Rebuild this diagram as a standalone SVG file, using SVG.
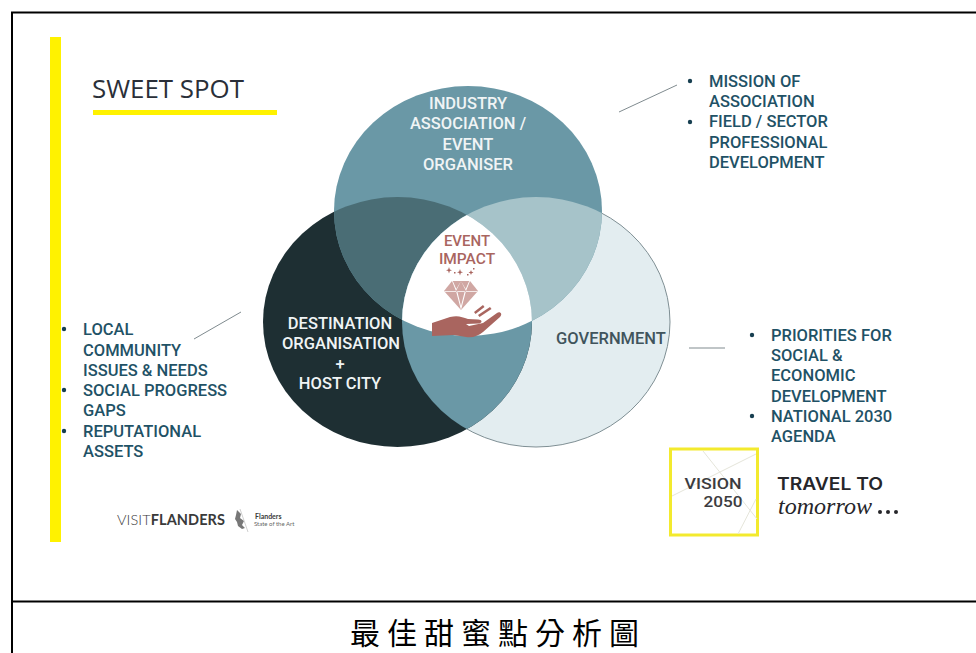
<svg xmlns="http://www.w3.org/2000/svg" width="976" height="653" viewBox="0 0 976 653">
<style>
.l{font-family:Roboto,"Liberation Sans",sans-serif;font-weight:500;font-size:16.5px;text-anchor:middle}
.w{fill:#f0f4f5}
.b{font-family:Roboto,"Liberation Sans",sans-serif;font-weight:500;font-size:16.5px;fill:#1f5266}
.d{fill:#173f50}
.c{stroke:#808b8f;stroke-width:1;fill:none}
</style>
<defs>
<clipPath id="cT"><ellipse cx="468" cy="211" rx="134" ry="125"/></clipPath>
<clipPath id="cL"><ellipse cx="397.5" cy="322" rx="134.500" ry="125"/></clipPath>
</defs>
<rect width="976" height="653" fill="#fff"/>
<g id="frame" fill="none" stroke="#000" stroke-width="2">
<path d="M976 12.500H12V653"/><path d="M12 601.500H976"/>
</g>
<g id="title">
<rect x="50" y="37" width="11" height="505" fill="#fff200"/>
<text x="92" y="98" font-family="'Open Sans','Liberation Sans',sans-serif" font-size="25.500" fill="#2a2f38" textLength="152" lengthAdjust="spacingAndGlyphs">SWEET SPOT</text>
<rect x="93" y="110" width="184" height="5" fill="#fff200"/>
</g>
<g id="government"><ellipse cx="536" cy="322" rx="134" ry="125" fill="#e3edf0" stroke="#7f8f94" stroke-width="1"/></g>
<g id="destination"><ellipse cx="397.500" cy="322" rx="134.500" ry="125" fill="#1e2f33"/></g>
<g id="industry"><ellipse cx="468" cy="211" rx="134" ry="125" fill="#6a98a6"/></g>
<g id="overlaps">
<g clip-path="url(#cT)"><ellipse cx="397.500" cy="322" rx="134.500" ry="125" fill="#4a6d75"/>
<ellipse cx="536" cy="322" rx="134" ry="125" fill="#a6c3c9"/></g>
<g clip-path="url(#cL)"><ellipse cx="536" cy="322" rx="134" ry="125" fill="#6a98a6"/>
<g clip-path="url(#cT)"><ellipse cx="536" cy="322" rx="134" ry="125" fill="#fff"/></g></g>
</g>
<g id="labels">
<text class="l w" x="468" y="109">INDUSTRY</text>
<text class="l w" x="468" y="129">ASSOCIATION /</text>
<text class="l w" x="468" y="150">EVENT</text>
<text class="l w" x="468" y="170">ORGANISER</text>
<text class="l w" x="340" y="329">DESTINATION</text>
<text class="l w" x="341" y="349">ORGANISATION</text>
<text class="l w" x="340" y="370">+</text>
<text class="l w" x="340" y="389">HOST CITY</text>
<text class="l" x="611" y="344" fill="#40545c">GOVERNMENT</text>
</g>
<g id="event-impact" fill="#a9655f">
<text class="l" x="467" y="246" style="font-size:15px" fill="#a9655f">EVENT</text>
<text class="l" x="467" y="264" style="font-size:15.5px" fill="#a9655f">IMPACT</text>
<path d="M449 267l.8 2.500 2.200.8-2.200.8-.8 2.500-.8-2.500-2.200-.8 2.200-.8zM460 269l.8 2.500 2.200.8-2.200.8-.8 2.500-.8-2.500-2.200-.8 2.200-.8zM471 270l.7 1.800 1.800.7-1.800.7-.7 1.800-.7-1.800-1.800-.7 1.800-.7zM454 272h1.500v1.500H454zM467 274h1.500v1.500H467zM473 268h1.500v1.500H473z"/>
<path fill="#d0a7a3" d="M452 281h18l8 10-17 19-17-19z"/>
<path fill="#fff" d="M444.500 291h33v.8h-33zM456 291l5 19 5-19h-1.200l-3.800 15-3.800-15zM452 281l4 10 5-10 5 10 4-10h-.8l-3.500 8-4.700-8-4.700 8-3.500-8z"/>
<path transform="translate(0 3)" d="M432 320l18-6c8-2 12 0 18 2l10 .5c4 0 5 3 1 4l-13 .5 3 2 14-3 14-10c3-2 6 1 3 4l-17 15c-5 4-10 6-17 5l-12-2-22 1zM478 312l12-8 1.500 2-12 8zM474 309l9-7 1.500 2-9 7z"/>
</g>
<g id="connectors" class="c">
<path d="M619 112l58-27"/>
<path d="M194 339l47-27"/>
<path d="M689 348h36"/>
</g>
<g id="top-notes">
<circle class="d" cx="690" cy="81" r="2.200"/>
<circle class="d" cx="690" cy="122" r="2.200"/>
<text class="b" x="709" y="87">MISSION OF</text>
<text class="b" x="709" y="107">ASSOCIATION</text>
<text class="b" x="709" y="127">FIELD / SECTOR</text>
<text class="b" x="709" y="148">PROFESSIONAL</text>
<text class="b" x="709" y="168">DEVELOPMENT</text>
</g>
<g id="left-notes">
<circle class="d" cx="64" cy="329" r="2.200"/>
<circle class="d" cx="64" cy="390" r="2.200"/>
<circle class="d" cx="64" cy="431" r="2.200"/>
<text class="b" x="83" y="335">LOCAL</text>
<text class="b" x="83" y="356">COMMUNITY</text>
<text class="b" x="83" y="376">ISSUES &amp; NEEDS</text>
<text class="b" x="83" y="396">SOCIAL PROGRESS</text>
<text class="b" x="83" y="416">GAPS</text>
<text class="b" x="83" y="437">REPUTATIONAL</text>
<text class="b" x="83" y="457">ASSETS</text>
</g>
<g id="right-notes">
<circle class="d" cx="752" cy="335" r="2.200"/>
<circle class="d" cx="752" cy="416" r="2.200"/>
<text class="b" x="771" y="341">PRIORITIES FOR</text>
<text class="b" x="771" y="361">SOCIAL &amp;</text>
<text class="b" x="771" y="381">ECONOMIC</text>
<text class="b" x="771" y="402">DEVELOPMENT</text>
<text class="b" x="771" y="422">NATIONAL 2030</text>
<text class="b" x="771" y="442">AGENDA</text>
</g>
<g id="visitflanders" fill="#3a3a3a">
<text x="117" y="525" font-family="Lato,'Liberation Sans',sans-serif" font-size="14.500" textLength="108"><tspan font-weight="300">VISIT</tspan><tspan font-weight="700">FLANDERS</tspan></text>
<path d="M237 510l4 4-1 4 4 3-2 4 3 3-3 1-4-3-1-4-2-3 1-4z" fill="#777"/>
<path d="M240 509l8 23" stroke="#bbb" stroke-width=".7"/>
<text x="255" y="519" font-family="Lato,'Liberation Sans',sans-serif" font-size="7" font-weight="700">Flanders</text>
<text x="254" y="526" font-family="Lato,'Liberation Sans',sans-serif" font-size="6" fill="#666">State of the Art</text>
</g>
<g id="vision-logo">
<rect x="670.500" y="449" width="87" height="86" fill="#fff" stroke="#f3ea2e" stroke-width="3"/>
<path d="M703 451l54 68M738 534l18-35M672 496l84-42" stroke="#e5e5da" fill="none"/>
<text x="713" y="489" text-anchor="middle" font-family="Roboto,'Liberation Sans',sans-serif" font-weight="500" font-size="15" textLength="57" lengthAdjust="spacingAndGlyphs" fill="#3c3c40">VISION</text>
<text x="723" y="507" text-anchor="middle" font-family="Roboto,'Liberation Sans',sans-serif" font-weight="500" font-size="15" textLength="39" lengthAdjust="spacingAndGlyphs" fill="#3c3c40">2050</text>
</g>
<g id="travel-logo" fill="#26262a">
<text x="777" y="490" font-family="Inter,'Liberation Sans',sans-serif" font-size="17" font-weight="600" textLength="106" lengthAdjust="spacingAndGlyphs">TRAVEL TO</text>
<text x="778" y="514" font-family="'Liberation Serif',serif" font-style="italic" font-size="24" textLength="94" lengthAdjust="spacingAndGlyphs">tomorrow</text>
<circle cx="880" cy="512" r="2"/><circle cx="888" cy="512" r="2"/><circle cx="896" cy="512" r="2"/>
</g>
<text id="caption" x="498" y="644" text-anchor="middle" font-family="'Noto Sans CJK TC','Noto Sans CJK SC',serif" font-size="30" letter-spacing="7" fill="#000">最佳甜蜜點分析圖</text>
</svg>
